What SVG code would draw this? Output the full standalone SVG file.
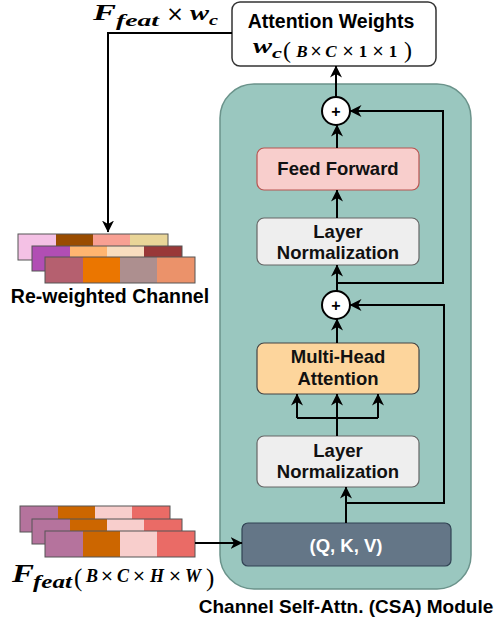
<svg xmlns="http://www.w3.org/2000/svg" width="501" height="624" viewBox="0 0 501 624">
<defs>
<marker id="arr" viewBox="0 0 12 12" refX="11.5" refY="6" markerWidth="12" markerHeight="12" markerUnits="userSpaceOnUse" orient="auto">
<path d="M0,0 L12,6 L0,12 L3.5,6 Z" fill="#000"/>
</marker>
<style>
.lbl{font-family:"Liberation Sans",Arial,sans-serif;font-weight:bold;fill:#000;text-anchor:middle}
.box{font-family:"Liberation Sans",Arial,sans-serif;font-weight:bold;font-size:18.5px;fill:#111;text-anchor:middle}
.m{font-family:"Liberation Serif","Times New Roman",serif;font-weight:bold;font-style:italic;fill:#000}
.mc{font-family:"Liberation Serif","Times New Roman",serif;font-weight:bold;font-style:italic;fill:#000;text-anchor:middle}
.mn{font-family:"Liberation Serif","Times New Roman",serif;font-weight:bold;fill:#000;text-anchor:middle}
.x{font-family:"DejaVu Sans",sans-serif;font-weight:normal;fill:#000;text-anchor:middle}
.mu{font-family:"Liberation Serif","Times New Roman",serif;font-weight:normal;fill:#000}
.ln{fill:#EEEEEE;stroke:#666;stroke-width:1.2}
.c{fill:none;stroke:#000;stroke-width:2}
.ca{fill:none;stroke:#000;stroke-width:2;marker-end:url(#arr)}
.row{fill:none;stroke:#555;stroke-width:1}
</style>
</defs>

<g id="csa-module">
<rect x="220" y="84" width="251" height="505" rx="34" fill="#9AC7BF" stroke="#6B938B" stroke-width="1.5"/>
<text class="lbl" x="346" y="613" font-size="19">Channel Self-Attn. (CSA) Module</text>
</g>

<g id="attention-weights">
<rect x="232" y="2" width="204" height="64" rx="8" fill="#fff" stroke="#333" stroke-width="1.5"/>
<text class="lbl" x="331" y="28" font-size="19.5">Attention Weights</text>
<text class="m" x="253" y="53" font-size="22" textLength="19" lengthAdjust="spacingAndGlyphs">w</text>
<text class="m" x="272" y="58" font-size="15" textLength="10" lengthAdjust="spacingAndGlyphs">c</text>
<text class="mu" x="283" y="58" font-size="24">(</text>
<text class="mc" x="302" y="57" font-size="17">B</text>
<text class="x" x="316" y="56" font-size="15">×</text>
<text class="mc" x="331" y="57" font-size="17">C</text>
<text class="x" x="348" y="56" font-size="15">×</text>
<text class="mn" x="363" y="57" font-size="17">1</text>
<text class="x" x="378" y="56" font-size="15">×</text>
<text class="mn" x="393" y="57" font-size="17">1</text>
<text class="mu" x="404" y="58" font-size="24">)</text>
</g>

<g id="plus-1">
<circle cx="336" cy="111" r="14" fill="#fff" stroke="#000" stroke-width="2"/>
<text class="lbl" x="336" y="116.5" font-size="16">+</text>
</g>

<g id="feed-forward">
<rect x="257" y="148" width="162" height="42" rx="7" fill="#F8CECC" stroke="#B85450" stroke-width="1.2"/>
<text class="box" x="338" y="175">Feed Forward</text>
</g>

<g id="layer-norm-2">
<rect class="ln" x="257" y="218" width="162" height="47" rx="7"/>
<text class="box" x="338" y="238">Layer</text>
<text class="box" x="338" y="259">Normalization</text>
</g>

<g id="plus-2">
<circle cx="336" cy="305" r="14" fill="#fff" stroke="#000" stroke-width="2"/>
<text class="lbl" x="336" y="310.5" font-size="16">+</text>
</g>

<g id="multi-head-attention">
<rect x="257" y="343" width="162" height="51" rx="7" fill="#FDD59C" stroke="#444" stroke-width="1.2"/>
<text class="box" x="338" y="363">Multi-Head</text>
<text class="box" x="338" y="385">Attention</text>
</g>

<g id="layer-norm-1">
<rect class="ln" x="257" y="436" width="162" height="51" rx="7"/>
<text class="box" x="338" y="457">Layer</text>
<text class="box" x="338" y="478">Normalization</text>
</g>

<g id="qkv">
<rect x="242" y="523" width="209" height="43" rx="6" fill="#647687" stroke="#314354" stroke-width="1.2"/>
<text class="box" x="346" y="552" style="fill:#fff">(Q, K, V)</text>
</g>

<g id="reweighted-channel">
<rect x="18" y="234" width="38" height="26" fill="#F4C1E5"/>
<rect x="56" y="234" width="37" height="26" fill="#994C00"/>
<rect x="93" y="234" width="37" height="26" fill="#F8A093"/>
<rect x="130" y="234" width="38" height="26" fill="#E9D598"/>
<rect class="row" x="18" y="234" width="150" height="26"/>
<rect x="32" y="246" width="38" height="25" fill="#B14EB4"/>
<rect x="70" y="246" width="37" height="25" fill="#FFB570"/>
<rect x="107" y="246" width="37" height="25" fill="#F8DDBF"/>
<rect x="144" y="246" width="38" height="25" fill="#993838"/>
<rect class="row" x="32" y="246" width="150" height="25"/>
<rect x="45" y="257" width="38" height="26" fill="#B5606F"/>
<rect x="83" y="257" width="37" height="26" fill="#EB7600"/>
<rect x="120" y="257" width="37" height="26" fill="#AD8F8F"/>
<rect x="157" y="257" width="38" height="26" fill="#EB926A"/>
<rect class="row" x="45" y="257" width="150" height="26"/>
<text class="lbl" x="110" y="303" font-size="19.5">Re-weighted Channel</text>
</g>

<g id="input-feature">
<rect x="20" y="506" width="38" height="26" fill="#B5739D"/>
<rect x="58" y="506" width="37" height="26" fill="#CC6600"/>
<rect x="95" y="506" width="37" height="26" fill="#F8CECC"/>
<rect x="132" y="506" width="38" height="26" fill="#EA6B66"/>
<rect class="row" x="20" y="506" width="150" height="26"/>
<rect x="32" y="519" width="38" height="25" fill="#B5739D"/>
<rect x="70" y="519" width="37" height="25" fill="#CC6600"/>
<rect x="107" y="519" width="37" height="25" fill="#F8CECC"/>
<rect x="144" y="519" width="38" height="25" fill="#EA6B66"/>
<rect class="row" x="32" y="519" width="150" height="25"/>
<rect x="45" y="531" width="38" height="26" fill="#B5739D"/>
<rect x="83" y="531" width="37" height="26" fill="#CC6600"/>
<rect x="120" y="531" width="37" height="26" fill="#F8CECC"/>
<rect x="157" y="531" width="38" height="26" fill="#EA6B66"/>
<rect class="row" x="45" y="531" width="150" height="26"/>
<text class="m" x="12" y="582" font-size="26" textLength="22" lengthAdjust="spacingAndGlyphs">F</text>
<text class="m" x="33" y="588" font-size="18" textLength="39" lengthAdjust="spacingAndGlyphs">feat</text>
<text class="mu" x="74" y="586" font-size="25">(</text>
<text class="mc" x="92" y="582" font-size="18">B</text>
<text class="x" x="107" y="581" font-size="16">×</text>
<text class="mc" x="123" y="582" font-size="18">C</text>
<text class="x" x="139" y="581" font-size="16">×</text>
<text class="mc" x="157" y="582" font-size="18">H</text>
<text class="x" x="175" y="581" font-size="16">×</text>
<text class="mc" x="193" y="582" font-size="18">W</text>
<text class="mu" x="206" y="586" font-size="25">)</text>
</g>

<g id="output-label">
<text class="m" x="93" y="20" font-size="24" textLength="23" lengthAdjust="spacingAndGlyphs">F</text>
<text class="m" x="116" y="26" font-size="17" textLength="43" lengthAdjust="spacingAndGlyphs">feat</text>
<text class="x" x="175" y="21" font-size="21">×</text>
<text class="m" x="190" y="20" font-size="22" textLength="19" lengthAdjust="spacingAndGlyphs">w</text>
<text class="m" x="209" y="25" font-size="15" textLength="9" lengthAdjust="spacingAndGlyphs">c</text>
</g>

<g id="connectors">
<path class="ca" d="M336,97 L336,66"/>
<path class="ca" d="M337,148 L337,125"/>
<path class="ca" d="M337,218 L337,190"/>
<path class="ca" d="M337,291 L337,265"/>
<path class="ca" d="M337,283 L443,283 L443,111 L350,111"/>
<path class="ca" d="M337,343 L337,319"/>
<path class="ca" d="M346,503 L444,503 L444,305 L350,305"/>
<path class="ca" d="M346,523 L346,487"/>
<path class="c" d="M337,436 L337,418 M297,418 L378,418"/>
<path class="ca" d="M297,418 L297,394"/>
<path class="ca" d="M337,418 L337,394"/>
<path class="ca" d="M378,418 L378,394"/>
<path class="ca" d="M195,543 L242,543"/>
<path class="ca" d="M232,33 L108,33 L108,232"/>
</g>
</svg>
